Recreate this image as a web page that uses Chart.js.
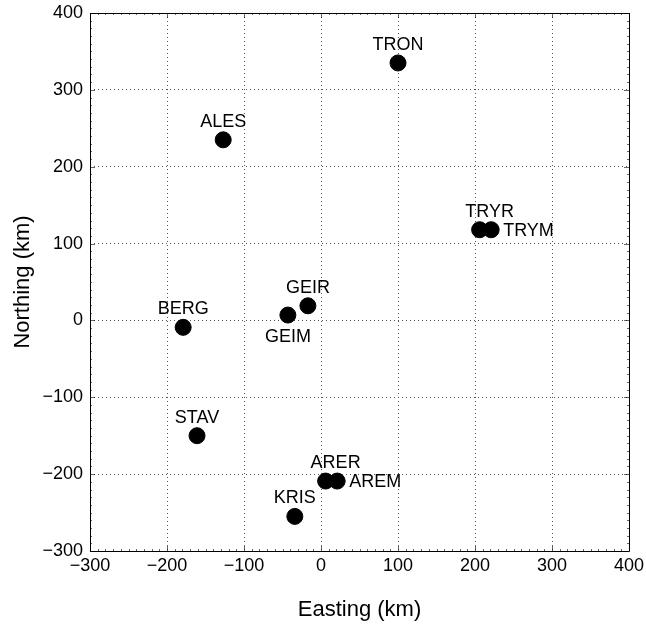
<!DOCTYPE html>
<html><head><meta charset="utf-8">
<script src="https://cdn.jsdelivr.net/npm/chart.js@4"></script>
<style>html,body{margin:0;padding:0;background:#fff}#wrap{width:646px;height:627px}</style>
</head><body><div id="wrap"><canvas id="c"></canvas></div>
<script>
const stations = ['TRON','ALES','TRYR','TRYM','GEIR','GEIM','BERG','STAV','ARER','AREM','KRIS'];
const easting  = [100, -127, 206, 221, -17, -43, -179, -161, 6, 21, -34];
const northing = [335, 235, 118, 118, 19, 7, -9, -150, -209, -209, -255];
const labelPlacement = ['top','top','top-right','right','top','bottom','top','top','top-right','right','top'];
const xTicks = [-300,-200,-100,0,100,200,300,400];
const yTicks = [-300,-200,-100,0,100,200,300,400];

const FONT = 'Liberation Sans, Arial, Helvetica, sans-serif';
const fmt = v => (v < 0 ? '\u2212' + Math.abs(v) : String(v));

const labelPlugin = {
  id: 'stationLabels',
  afterDatasetsDraw(chart) {
    const ctx = chart.ctx;
    const meta = chart.getDatasetMeta(0);
    ctx.save();
    ctx.font = '18px ' + FONT;
    ctx.fillStyle = '#000';
    meta.data.forEach((el, i) => {
      const p = labelPlacement[i];
      let x = el.x, y = el.y;
      ctx.textBaseline = 'middle';
      if (p === 'top') { ctx.textAlign = 'center'; y -= 18; }
      else if (p === 'top-right') { ctx.textAlign = 'center'; x += 10; y -= 18; }
      else if (p === 'right') { ctx.textAlign = 'left'; x += 12; y += 1; }
      else if (p === 'bottom') { ctx.textAlign = 'center'; y += 22; }
      ctx.fillText(stations[i], x, y);
    });
    ctx.restore();
  }
};

const framePlugin = {
  id: 'frame',
  afterDraw(chart) {
    const ctx = chart.ctx, a = chart.chartArea;
    const xs = chart.scales.x, ys = chart.scales.y;
    ctx.save();
    ctx.strokeStyle = '#000';
    ctx.lineWidth = 1;
    ctx.beginPath();
    ctx.rect(Math.round(a.left)+0.5, Math.round(a.top)+0.5, Math.round(a.right-a.left), Math.round(a.bottom-a.top));
    ctx.stroke();
    ctx.beginPath();
    for (let v = -300; v <= 400; v += 10) {
      const major = v % 100 === 0;
      const L = major ? 5 : 2;
      const px = Math.round(xs.getPixelForValue(v)) + 0.5;
      ctx.moveTo(px, a.bottom); ctx.lineTo(px, a.bottom - L);
      ctx.moveTo(px, a.top); ctx.lineTo(px, a.top + L);
      const py = Math.round(ys.getPixelForValue(v)) + 0.5;
      ctx.moveTo(a.left, py); ctx.lineTo(a.left + L, py);
      ctx.moveTo(a.right, py); ctx.lineTo(a.right - L, py);
    }
    ctx.lineWidth = 0.6;
    ctx.stroke();
    ctx.restore();
  }
};

new Chart(document.getElementById('c'), {
  type: 'scatter',
  data: {
    datasets: [{
      data: easting.map((e, i) => ({x: e, y: northing[i]})),
      backgroundColor: '#000',
      borderColor: '#000',
      pointRadius: 8,
      pointHoverRadius: 8
    }]
  },
  options: {
    responsive: true,
    maintainAspectRatio: false,
    animation: false,
    events: [],
    layout: { padding: { top: 13, right: 17, left: 0, bottom: 0 } },
    plugins: { legend: { display: false }, tooltip: { enabled: false } },
    scales: {
      x: {
        type: 'linear', min: -300, max: 400,
        afterBuildTicks: s => { s.ticks = xTicks.map(v => ({value: v})); },
        afterFit: s => { s.height = 76; s.paddingLeft = 0; s.paddingRight = 0; },
        grid: { color: '#555', lineWidth: 1, drawTicks: false },
        border: { display: false, dash: [1, 3] },
        ticks: { callback: v => fmt(v), color: '#000', font: { family: FONT, size: 18 }, padding: 4, maxRotation: 0 },
        title: { display: true, text: 'Easting (km)', color: '#000', font: { family: FONT, size: 22 }, padding: { top: 8 } }
      },
      y: {
        type: 'linear', min: -300, max: 400,
        afterBuildTicks: s => { s.ticks = yTicks.map(v => ({value: v})); },
        afterFit: s => { s.width = 90; s.paddingTop = 0; s.paddingBottom = 0; },
        grid: { color: '#555', lineWidth: 1, drawTicks: false },
        border: { display: false, dash: [1, 3] },
        ticks: { callback: v => fmt(v), color: '#000', font: { family: FONT, size: 18 }, padding: 7 },
        title: { display: true, text: 'Northing (km)', color: '#000', font: { family: FONT, size: 22 }, padding: { top: 10, bottom: 0 } }
      }
    }
  },
  plugins: [labelPlugin, framePlugin]
});
</script>
</body></html>
